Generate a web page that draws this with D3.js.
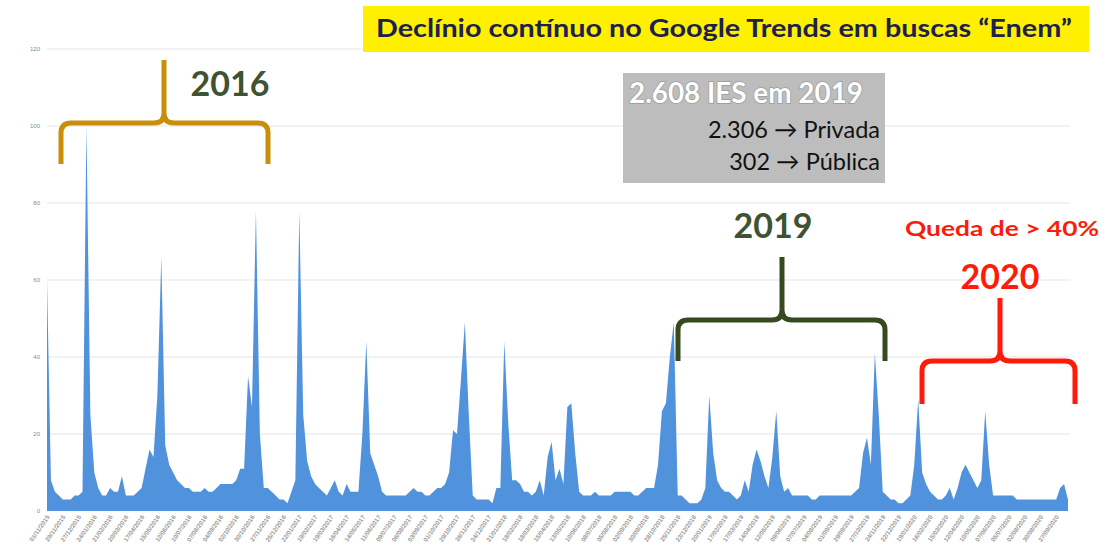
<!DOCTYPE html>
<html>
<head>
<meta charset="utf-8">
<script src="https://cdn.jsdelivr.net/npm/d3@7"></script>
<style>
  body { margin: 0; background: #fff; }
  svg { display: block; }
</style>
</head>
<body>
<div id="chart"></div>
<script>
// weekly Google Trends interest for "Enem"
var trendValues = [
  60, 8, 5, 4, 3, 3, 3, 4, 4, 5,
  100, 25, 10, 6, 4, 4, 6, 5, 5, 9,
  4, 4, 4, 5, 6, 11, 16, 14, 30, 66,
  17, 12, 10, 8, 7, 6, 6, 5, 5, 5,
  6, 5, 5, 6, 7, 7, 7, 7, 8, 11,
  11, 35, 27, 78, 20, 6, 6, 5, 4, 3,
  3, 2, 5, 8, 78, 25, 13, 9, 7, 6,
  5, 4, 6, 8, 5, 4, 7, 5, 5, 5,
  20, 44, 15, 12, 9, 5, 4, 4, 4, 4,
  4, 4, 5, 6, 5, 5, 4, 4, 5, 6,
  6, 7, 10, 21, 20, 34, 49, 25, 4, 3,
  3, 3, 3, 2, 6, 6, 44, 23, 8, 8,
  7, 5, 5, 4, 5, 8, 4, 14, 18, 8,
  11, 7, 27, 28, 15, 5, 4, 4, 4, 5,
  4, 4, 4, 4, 5, 5, 5, 5, 5, 4,
  4, 5, 6, 6, 6, 12, 26, 28, 40, 49,
  4, 4, 3, 2, 2, 2, 3, 6, 30, 15,
  8, 6, 5, 5, 4, 3, 4, 8, 5, 12,
  16, 13, 9, 6, 14, 26, 9, 5, 6, 4,
  4, 4, 4, 4, 3, 3, 4, 4, 4, 4,
  4, 4, 4, 4, 4, 5, 6, 15, 19, 12,
  41, 25, 5, 4, 3, 3, 2, 2, 3, 4,
  12, 29, 10, 7, 5, 4, 3, 3, 4, 6,
  3, 6, 10, 12, 10, 8, 6, 8, 26, 12,
  4, 4, 4, 4, 4, 4, 3, 3, 3, 3,
  3, 3, 3, 3, 3, 3, 3, 6, 7, 3
];

// one label every 4 weeks
var tickLabels = [
  "01/11/2015", "29/11/2015", "27/12/2015", "24/01/2016", "21/02/2016", "20/03/2016",
  "17/04/2016", "15/05/2016", "12/06/2016", "10/07/2016", "07/08/2016", "04/09/2016",
  "02/10/2016", "30/10/2016", "27/11/2016", "25/12/2016", "22/01/2017", "19/02/2017",
  "19/03/2017", "16/04/2017", "14/05/2017", "11/06/2017", "09/07/2017", "06/08/2017",
  "03/09/2017", "01/10/2017", "29/10/2017", "26/11/2017", "24/12/2017", "21/01/2018",
  "18/02/2018", "18/03/2018", "15/04/2018", "13/05/2018", "10/06/2018", "08/07/2018",
  "05/08/2018", "02/09/2018", "30/09/2018", "28/10/2018", "25/11/2018", "23/12/2018",
  "20/01/2019", "17/02/2019", "17/03/2019", "14/04/2019", "12/05/2019", "09/06/2019",
  "07/07/2019", "04/08/2019", "01/09/2019", "29/09/2019", "27/10/2019", "24/11/2019",
  "22/12/2019", "19/01/2020", "16/02/2020", "15/03/2020", "12/04/2020", "10/05/2020",
  "07/06/2020", "05/07/2020", "02/08/2020", "30/08/2020", "27/09/2020"
];
var yTicks = [0, 20, 40, 60, 80, 100, 120];

var width = 1107,
    height = 547;

var svg = d3.select("#chart").append("svg")
    .attr("width", width)
    .attr("height", height);

var x = d3.scaleLinear()
    .domain([0, trendValues.length - 1])
    .range([47, 1068]);

var y = d3.scaleLinear()
    .domain([0, 120])
    .range([511, 49]);

// gridlines
svg.selectAll(".grid")
    .data(yTicks.slice(1))
    .enter().append("line")
    .attr("x1", 47)
    .attr("x2", 1070)
    .attr("y1", function(d) { return y(d); })
    .attr("y2", function(d) { return y(d); })
    .style("stroke", "#e6e6e6")
    .style("stroke-width", 1.2);

// y axis labels
svg.selectAll(".ylab")
    .data(yTicks)
    .enter().append("text")
    .attr("x", 40)
    .attr("y", function(d) { return y(d) + 2; })
    .attr("text-anchor", "end")
    .style("font-family", "Liberation Sans, sans-serif")
    .style("font-size", "6px")
    .style("fill", "#8a8a8a")
    .text(function(d) { return d; });

// the area
var area = d3.area()
    .x(function(d, i) { return x(i); })
    .y0(y(0))
    .y1(function(d) { return y(d); });

svg.append("path")
    .datum(trendValues)
    .attr("d", area)
    .style("fill", "#5093dc")
    .style("stroke", "none");

// x labels (rotated dates)
svg.selectAll(".xlab")
    .data(tickLabels)
    .enter().append("text")
    .attr("transform", function(d, i) {
        return "translate(" + (x(i * 4) + 3) + ",517) rotate(-55)";
    })
    .attr("text-anchor", "end")
    .style("font-family", "Liberation Sans, sans-serif")
    .style("font-size", "6.2px")
    .style("font-weight", "bold")
    .style("fill", "#9a9a9a")
    .text(function(d) { return d; });

// curly brackets
function brace(x1, x2, yBar, yEnd, xTip, yTip) {
    var r = 10;
    return "M" + x1 + "," + yEnd +
        " L" + x1 + "," + (yBar + r) +
        " Q" + x1 + "," + yBar + " " + (x1 + r) + "," + yBar +
        " L" + (xTip - r) + "," + yBar +
        " Q" + xTip + "," + yBar + " " + xTip + "," + (yBar - r) +
        " L" + xTip + "," + yTip +
        " M" + x2 + "," + yEnd +
        " L" + x2 + "," + (yBar + r) +
        " Q" + x2 + "," + yBar + " " + (x2 - r) + "," + yBar +
        " L" + (xTip + r) + "," + yBar +
        " Q" + xTip + "," + yBar + " " + xTip + "," + (yBar - r);
}

var braces = [
    { x1: 61, x2: 268, yBar: 123, yEnd: 164, xTip: 164, yTip: 60, color: "#c98f0a" },
    { x1: 678, x2: 885, yBar: 320, yEnd: 361, xTip: 782, yTip: 257, color: "#37491f" },
    { x1: 922, x2: 1075, yBar: 361, yEnd: 404, xTip: 1000, yTip: 298, color: "#ff1a0a" }
];

svg.selectAll(".brace")
    .data(braces)
    .enter().append("path")
    .attr("d", function(d) { return brace(d.x1, d.x2, d.yBar, d.yEnd, d.xTip, d.yTip); })
    .style("fill", "none")
    .style("stroke", function(d) { return d.color; })
    .style("stroke-width", 5)
    .style("stroke-linejoin", "round");

// year labels
var fontBold = "Lato, 'Open Sans', sans-serif";
svg.append("text").attr("x", 230).attr("y", 96)
    .attr("text-anchor", "middle")
    .style("font-family", fontBold).style("font-weight", "bold")
    .style("font-size", "34px").style("fill", "#3f5232")
    .text("2016");
svg.append("text").attr("x", 773).attr("y", 238)
    .attr("text-anchor", "middle")
    .style("font-family", fontBold).style("font-weight", "bold")
    .style("font-size", "34px").style("fill", "#3f5232")
    .text("2019");
svg.append("text").attr("x", 1000).attr("y", 289)
    .attr("text-anchor", "middle")
    .style("font-family", fontBold).style("font-weight", "bold")
    .style("font-size", "34px").style("fill", "#ff1a0a")
    .text("2020");
svg.append("text").attr("x", 1002).attr("y", 236)
    .attr("text-anchor", "middle")
    .style("font-family", fontBold).style("font-weight", "bold")
    .style("font-size", "20px").style("fill", "#ff1a0a")
    .attr("textLength", 194).attr("lengthAdjust", "spacingAndGlyphs")
    .text("Queda de > 40%");

// title box
svg.append("rect")
    .attr("x", 363).attr("y", 6)
    .attr("width", 726).attr("height", 46)
    .style("fill", "#fff000");
svg.append("text").attr("x", 376).attr("y", 37)
    .style("font-family", fontBold).style("font-weight", "bold")
    .style("font-size", "24px").style("fill", "#1b2150")
    .attr("textLength", 696).attr("lengthAdjust", "spacingAndGlyphs")
    .text("Declínio contínuo no Google Trends em buscas “Enem”");

// grey info box
svg.append("rect")
    .attr("x", 623).attr("y", 73)
    .attr("width", 262).attr("height", 110)
    .style("fill", "#bdbdbd");
svg.append("text").attr("x", 629).attr("y", 103)
    .style("font-family", fontBold).style("font-weight", "bold")
    .style("font-size", "28px").style("fill", "#fff")
    .style("paint-order", "stroke").style("stroke", "#9a9a9a").style("stroke-width", 1.5)
    .attr("textLength", 234).attr("lengthAdjust", "spacingAndGlyphs")
    .text("2.608 IES em 2019");
svg.append("text").attr("x", 880).attr("y", 138)
    .attr("text-anchor", "end")
    .style("font-family", "Lato, sans-serif")
    .style("font-size", "23.5px").style("fill", "#111")
    .text("2.306 → Privada");
svg.append("text").attr("x", 880).attr("y", 170)
    .attr("text-anchor", "end")
    .style("font-family", "Lato, sans-serif")
    .style("font-size", "23.5px").style("fill", "#111")
    .text("302 → Pública");
</script>
</body>
</html>
